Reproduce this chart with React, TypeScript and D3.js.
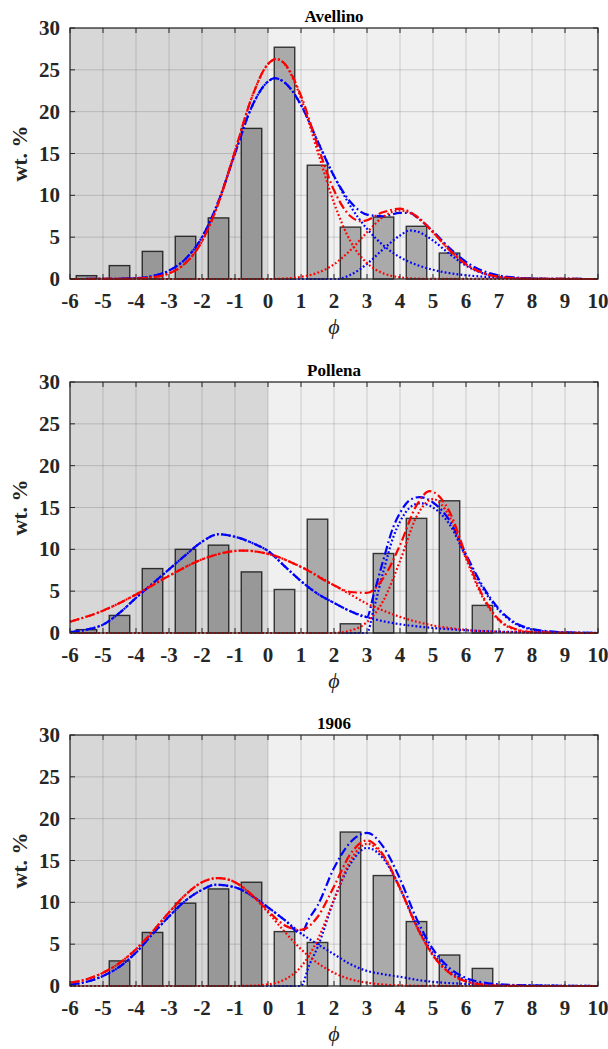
import React from 'react'
import * as d3 from 'd3'

// axis ticks
const phiTicks = [-6, -5, -4, -3, -2, -1, 0, 1, 2, 3, 4, 5, 6, 7, 8, 9, 10]
const wtTicks = [0, 5, 10, 15, 20, 25, 30]

// histogram bins (phi class centres)
const binCenters = [-5.5, -4.5, -3.5, -2.5, -1.5, -0.5, 0.5, 1.5, 2.5, 3.5, 4.5, 5.5, 6.5]
const avellinoBars = [0.4, 1.6, 3.3, 5.1, 7.3, 18.0, 27.7, 13.6, 6.2, 7.4, 6.3, 3.1, 0]
const pollenaBars = [0.4, 2.1, 7.7, 10.0, 10.5, 7.3, 5.2, 13.6, 1.1, 9.5, 13.7, 15.8, 3.3]
const bars1906 = [0, 3.0, 6.4, 9.9, 11.6, 12.4, 6.5, 5.2, 18.4, 13.2, 7.7, 3.7, 2.1]

// fitted curves, [phi, wt%]
const avellinoRed1 = [[-6,0],[-4.5,0.01],[-4,0.05],[-3.5,0.2],[-3,0.67],[-2.5,1.9],[-2,4.5],[-1.5,9.1],[-1,15.3],[-0.5,21.6],[0,25.7],[0.25,26.3],[0.5,25.7],[1,21.6],[1.5,15.3],[2,9.1],[2.5,4.5],[3,1.9],[3.5,0.67],[4,0.2],[4.5,0.05],[5,0.01],[10,0]]
const avellinoRed2 = [[-6,0],[0,0],[0.5,0.05],[1,0.26],[1.5,0.74],[2,1.76],[2.5,3.45],[3,5.58],[3.5,7.45],[4,8.2],[4.5,7.45],[5,5.58],[5.5,3.45],[6,1.76],[6.5,0.74],[7,0.26],[7.5,0.08],[8,0.02],[10,0]]
const avellinoRedSum = [[-6,0],[-4.5,0.01],[-4,0.05],[-3.5,0.2],[-3,0.67],[-2.5,1.9],[-2,4.5],[-1.5,9.1],[-1,15.3],[-0.5,21.6],[0,25.7],[0.25,26.3],[0.5,25.75],[1,21.9],[1.5,16.0],[2,10.6],[2.5,7.5],[2.85,6.9],[3.5,8.0],[4,8.4],[4.5,7.5],[5,5.6],[5.5,3.45],[6,1.76],[6.5,0.74],[7,0.26],[7.5,0.08],[8,0.02],[10,0]]
const avellinoBlue1 = [[-6,0],[-5,0.01],[-4,0.1],[-3.5,0.35],[-3,1.0],[-2.5,2.4],[-2,5.0],[-1.5,9.3],[-1,15.0],[-0.5,20.5],[0,23.6],[0.2,24.0],[0.5,23.5],[1,20.8],[1.5,16.5],[2,12.3],[2.5,8.7],[3,6.0],[3.5,4.0],[4,2.6],[4.5,1.7],[5,1.1],[5.5,0.7],[6,0.45],[6.5,0.28],[7,0.17],[7.5,0.1],[8,0.05],[9,0.01],[10,0]]
const avellinoBlue2 = [[-6,0],[2.1,0],[2.5,0.5],[3,1.8],[3.5,3.6],[4,5.2],[4.3,5.8],[4.5,5.7],[5,4.6],[5.5,3.0],[6,1.6],[6.5,0.7],[7,0.25],[7.5,0.08],[8,0.02],[8.5,0],[10,0]]
const avellinoBlueSum = [[-6,0],[-5,0.01],[-4,0.1],[-3.5,0.35],[-3,1.0],[-2.5,2.4],[-2,5.0],[-1.5,9.3],[-1,15.0],[-0.5,20.5],[0,23.6],[0.2,24.0],[0.5,23.5],[1,20.8],[1.5,16.5],[2,12.3],[2.5,9.2],[3,7.7],[3.5,7.5],[4,7.9],[4.3,7.9],[4.5,7.4],[5,5.7],[5.5,3.7],[6,2.05],[6.5,0.98],[7,0.42],[7.5,0.18],[8,0.07],[9,0.01],[10,0]]

const pollenaRed1 = [[-6,1.35],[-5,2.67],[-4,4.6],[-3,6.83],[-2,8.8],[-1,9.8],[-0.75,9.85],[0,9.46],[1,7.9],[2,5.7],[2.5,4.6],[3,3.5],[3.5,2.67],[4,1.93],[4.5,1.35],[5,0.9],[6,0.37],[7,0.13],[8,0.04],[9,0.01],[10,0]]
const pollenaRed2 = [[-6,0],[2,0],[2.5,0.3],[3,1.3],[3.5,3.9],[4,8.6],[4.5,13.9],[5,16.0],[5.5,13.9],[6,8.9],[6.5,4.3],[7,1.5],[7.5,0.4],[8,0.08],[8.5,0],[10,0]]
const pollenaRedSum = [[-6,1.35],[-5,2.67],[-4,4.6],[-3,6.83],[-2,8.8],[-1,9.8],[-0.75,9.85],[0,9.46],[1,7.9],[2,5.7],[2.5,4.9],[3,4.8],[3.5,6.6],[4,10.5],[4.5,15.25],[4.9,16.95],[5.5,14.5],[6,9.3],[6.5,4.5],[7,1.6],[7.5,0.47],[8,0.12],[9,0.01],[10,0]]
const pollenaBlue1 = [[-6,0.1],[-5.5,0.4],[-5,1.0],[-4.5,2.4],[-4,4.2],[-3.5,5.9],[-3,7.6],[-2.5,9.3],[-2,10.9],[-1.5,11.8],[-1,11.5],[-0.5,10.8],[0,9.8],[0.5,8.0],[1,6.2],[1.5,4.7],[2,3.6],[2.5,2.6],[3,1.9],[3.5,1.4],[4,1.05],[4.5,0.8],[5,0.6],[5.5,0.45],[6,0.32],[7,0.16],[8,0.08],[9,0.03],[10,0]]
const pollenaBlue2 = [[-6,0],[3,0],[3.2,2.8],[3.5,7.4],[3.8,11.5],[4,13.3],[4.3,15.0],[4.6,15.5],[5,15.0],[5.5,13.0],[6,9.1],[6.5,5.4],[7,2.7],[7.5,1.1],[8,0.4],[8.5,0.15],[9,0.05],[10,0]]
const pollenaBlueSum = [[-6,0.1],[-5.5,0.4],[-5,1.0],[-4.5,2.4],[-4,4.2],[-3.5,5.9],[-3,7.6],[-2.5,9.3],[-2,10.9],[-1.5,11.8],[-1,11.5],[-0.5,10.8],[0,9.8],[0.5,8.0],[1,6.2],[1.5,4.7],[2,3.6],[2.5,2.6],[3,1.9],[3.2,4.55],[3.5,8.8],[3.8,12.7],[4,14.35],[4.3,15.9],[4.6,16.25],[5,15.6],[5.5,13.45],[6,9.4],[6.5,5.65],[7,2.86],[7.5,1.2],[8,0.48],[8.5,0.2],[9,0.08],[10,0]]

const red1906a = [[-6,0.4],[-5.5,0.8],[-5,1.58],[-4.5,2.75],[-4,4.4],[-3.5,6.5],[-3,8.8],[-2.5,10.9],[-2,12.4],[-1.5,12.9],[-1,12.4],[-0.5,10.9],[0,8.8],[0.5,6.5],[1,4.4],[1.5,2.75],[2,1.58],[2.5,0.8],[3,0.4],[3.5,0.17],[4,0.07],[5,0.01],[6,0],[10,0]]
const red1906b = [[-6,0],[-1,0],[-0.5,0.04],[0,0.19],[0.5,0.76],[1,2.3],[1.5,5.5],[2,10.3],[2.5,15.0],[3,17.0],[3.5,15.45],[4,11.6],[4.5,7.15],[5,3.65],[5.5,1.56],[6,0.55],[6.5,0.16],[7,0.04],[8,0],[10,0]]
const red1906Sum = [[-6,0.4],[-5.5,0.8],[-5,1.58],[-4.5,2.75],[-4,4.4],[-3.5,6.5],[-3,8.8],[-2.5,10.9],[-2,12.4],[-1.5,12.9],[-1,12.4],[-0.5,10.95],[0,9.0],[0.5,7.26],[1,6.7],[1.5,8.25],[2,11.9],[2.5,15.8],[3,17.4],[3.5,15.6],[4,11.7],[4.5,7.15],[5,3.65],[5.5,1.56],[6,0.55],[6.5,0.16],[7,0.04],[8,0],[10,0]]
const blue1906a = [[-6,0.15],[-5.5,0.5],[-5,1.2],[-4.5,2.3],[-4,4.0],[-3.5,6.2],[-3,8.3],[-2.5,10.2],[-2,11.5],[-1.6,12.1],[-1,11.8],[-0.5,10.8],[0,9.4],[0.5,7.9],[1,6.3],[1.5,5.0],[2,3.8],[2.5,2.6],[3,1.8],[3.5,1.4],[4,1.1],[4.5,0.75],[5,0.5],[5.5,0.35],[6,0.25],[7,0.12],[8,0.06],[9,0.02],[10,0]]
const blue1906b = [[-6,0],[1,0],[1.25,2.5],[1.5,4.6],[2,10.3],[2.5,14.6],[3,16.5],[3.5,15.2],[4,11.7],[4.5,7.3],[5,3.9],[5.5,1.8],[6,0.7],[6.5,0.25],[7,0.08],[8,0.01],[10,0]]
const blue1906Sum = [[-6,0.15],[-5.5,0.5],[-5,1.2],[-4.5,2.3],[-4,4.0],[-3.5,6.2],[-3,8.3],[-2.5,10.2],[-2,11.5],[-1.6,12.1],[-1,11.8],[-0.5,10.8],[0,9.4],[0.5,7.9],[1,6.3],[1.25,8.1],[1.5,9.6],[2,14.1],[2.5,17.2],[3,18.3],[3.5,16.6],[4,12.8],[4.5,8.05],[5,4.4],[5.5,2.15],[6,0.95],[6.5,0.43],[7,0.2],[8,0.07],[9,0.02],[10,0]]

const W = 608, H = 1049
const left = 70, right = 598, plotH = 251
const font = 'Liberation Serif'

const DOT = '1.8 2.2'
const DASHDOT = '9 3 1.8 3'

function Panel({ title, top, bars, curves }) {
  const x = d3.scaleLinear().domain([-6, 10]).range([left, right])
  const y = d3.scaleLinear().domain([0, 30]).range([top + plotH, top])
  const line = d3.line().x(d => x(d[0])).y(d => y(d[1])).curve(d3.curveMonotoneX)
  const bw = x(0.62) - x(0)
  const tk = 5
  const bottom = y(0)
  const txt = { fontFamily: font, fontWeight: 'bold' }
  return (
    <g>
      <rect x={left} y={top} width={right - left} height={plotH} fill="#f0f0f0" />
      {/* grid */}
      {phiTicks.map(t => <line key={'gx' + t} x1={x(t)} x2={x(t)} y1={top} y2={bottom} stroke="#000" strokeOpacity={0.15} />)}
      {wtTicks.map(t => <line key={'gy' + t} x1={left} x2={right} y1={y(t)} y2={y(t)} stroke="#000" strokeOpacity={0.15} />)}
      {/* bars */}
      {binCenters.map((c, i) => bars[i] > 0 &&
        <rect key={'b' + i} x={x(c) - bw / 2} y={y(bars[i])} width={bw} height={bottom - y(bars[i])}
          fill="#aaaaaa" stroke="#333" strokeWidth={1.4} />)}
      {/* coarse fraction shading */}
      <rect x={left} y={top} width={x(0) - left} height={plotH} fill="#000" fillOpacity={0.1} />
      {/* fits */}
      {curves.map((c, i) =>
        <path key={'c' + i} d={line(c.pts)} fill="none" stroke={c.color} strokeWidth={2.2}
          strokeDasharray={c.dash} />)}
      {/* axes box + ticks */}
      <rect x={left} y={top} width={right - left} height={plotH} fill="none" stroke="#262626" strokeWidth={1.2} />
      {phiTicks.map(t => <g key={'tx' + t}>
        <line x1={x(t)} x2={x(t)} y1={bottom} y2={bottom - tk} stroke="#262626" />
        <line x1={x(t)} x2={x(t)} y1={top} y2={top + tk} stroke="#262626" />
        <text x={x(t)} y={bottom + 29} textAnchor="middle" fontSize={21} style={txt} fill="#262626">{t}</text>
      </g>)}
      {wtTicks.map(t => <g key={'ty' + t}>
        <line x1={left} x2={left + tk} y1={y(t)} y2={y(t)} stroke="#262626" />
        <line x1={right} x2={right - tk} y1={y(t)} y2={y(t)} stroke="#262626" />
        <text x={left - 10} y={y(t) + 7} textAnchor="end" fontSize={21} style={txt} fill="#262626">{t}</text>
      </g>)}
      <text x={(left + right) / 2} y={top - 6} textAnchor="middle" fontSize={17} style={txt} fill="#000">{title}</text>
      <text transform={`translate(27,${top + plotH / 2}) rotate(-90)`} textAnchor="middle" fontSize={22} style={txt} fill="#262626">wt. %</text>
      <text x={(left + right) / 2} y={bottom + 55} textAnchor="middle" fontSize={22} fontStyle="italic" style={{ fontFamily: font }} fill="#262626">ϕ</text>
    </g>
  )
}

function fits(r1, r2, rs, b1, b2, bs) {
  return [
    { pts: b1, color: '#0000ff', dash: DOT },
    { pts: b2, color: '#0000ff', dash: DOT },
    { pts: bs, color: '#0000ff', dash: DASHDOT },
    { pts: r1, color: '#ff0000', dash: DOT },
    { pts: r2, color: '#ff0000', dash: DOT },
    { pts: rs, color: '#ff0000', dash: DASHDOT },
  ]
}

export default function App() {
  return (
    <svg width={W} height={H} style={{ position: 'absolute', left: 0, top: 0, background: '#fff' }}>
      <rect width={W} height={H} fill="#fff" />
      <Panel title="Avellino" top={28} bars={avellinoBars}
        curves={fits(avellinoRed1, avellinoRed2, avellinoRedSum, avellinoBlue1, avellinoBlue2, avellinoBlueSum)} />
      <Panel title="Pollena" top={382} bars={pollenaBars}
        curves={fits(pollenaRed1, pollenaRed2, pollenaRedSum, pollenaBlue1, pollenaBlue2, pollenaBlueSum)} />
      <Panel title="1906" top={735} bars={bars1906}
        curves={fits(red1906a, red1906b, red1906Sum, blue1906a, blue1906b, blue1906Sum)} />
    </svg>
  )
}
